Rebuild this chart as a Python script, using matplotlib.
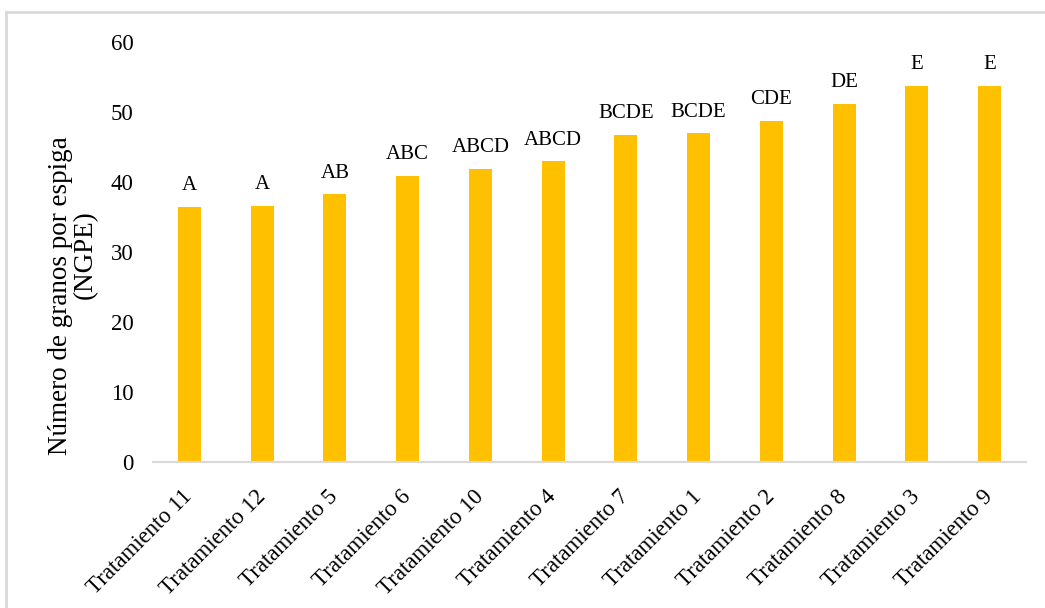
import matplotlib
matplotlib.use("Agg")
import matplotlib.pyplot as plt
from matplotlib.lines import Line2D

# Data
tratamientos = ["Tratamiento 11", "Tratamiento 12", "Tratamiento 5", "Tratamiento 6",
                "Tratamiento 10", "Tratamiento 4", "Tratamiento 7", "Tratamiento 1",
                "Tratamiento 2", "Tratamiento 8", "Tratamiento 3", "Tratamiento 9"]
ngpe = [36.4, 36.6, 38.2, 40.8, 41.8, 42.9, 46.7, 46.9, 48.7, 51.1, 53.7, 53.7]
letras = ["A", "A", "AB", "ABC", "ABCD", "ABCD", "BCDE", "BCDE", "CDE", "DE", "E", "E"]

plt.rcParams['font.family'] = ['Liberation Serif', 'DejaVu Serif']
plt.rcParams['font.size'] = 16.5

fig = plt.figure(figsize=(10.45, 6.08), dpi=100)
ax = fig.add_axes([0.1464, 0.2406, 0.9818 - 0.1464, 0.9314 - 0.2406])

x = range(len(tratamientos))
bars = ax.bar(x, ngpe, width=0.316, color="#FFC000")

# significance letters above the bars
for xi, v, l in zip(x, ngpe, letras):
    ax.annotate(l, (xi, v), xytext=(0, 12), textcoords="offset points",
                ha="center", va="baseline", color="black", fontsize=15)

ax.set_xlim(-0.5, len(tratamientos) - 0.5)
ax.set_ylim(0, 60)
ax.set_yticks(range(0, 61, 10))
ax.set_xticks(list(x))
ax.set_xticklabels(tratamientos, rotation=45, ha="right", va="center",
                   rotation_mode="anchor")
ax.tick_params(axis="y", length=0, pad=14)
ax.tick_params(axis="x", length=0, pad=23)

for s in ["top", "right", "left"]:
    ax.spines[s].set_visible(False)
ax.spines["bottom"].set_color("#D9D9D9")
ax.spines["bottom"].set_linewidth(1.5)

# y axis title, two lines placed separately (not centred on each other in the original)
ax.text(-0.1054, 0.3945, "Número de granos por espiga", rotation=90, fontsize=19.5,
        ha="center", va="center", transform=ax.transAxes)
ax.text(-0.0779, 0.494, "(NGPE)", rotation=90, fontsize=19.5,
        ha="center", va="center", transform=ax.transAxes)

# light grey chart border (top and left only visible)
fig.add_artist(Line2D([0.0057, 1.0], [0.980, 0.980], transform=fig.transFigure,
                      color="#D9D9D9", lw=2))
fig.add_artist(Line2D([0.0057, 0.0057], [0.0, 0.980], transform=fig.transFigure,
                      color="#D9D9D9", lw=2))

fig.savefig("out.png", dpi=100)
